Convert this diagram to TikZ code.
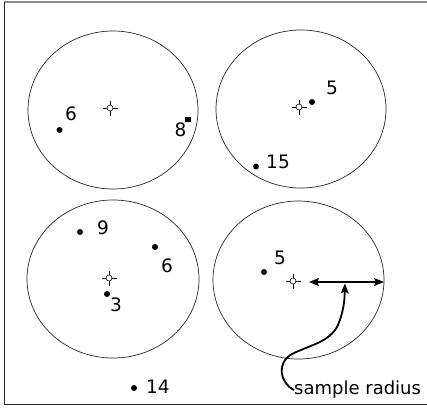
\documentclass[tikz,border=0pt]{standalone}
\usepackage{fontspec}
\setmainfont{DejaVu Sans}
\usetikzlibrary{arrows.meta}
\begin{document}
\begin{tikzpicture}[x=1pt,y=-1pt,
  plot/.style={draw=black!85,line width=0.7pt},
  dotpt/.style={circle,fill=black,inner sep=0pt,minimum size=6pt},
  sqpt/.style={rectangle,fill=black,inner sep=0pt,minimum size=5.5pt},
  num/.style={font=\fontsize{18.5}{20}\selectfont,inner sep=0pt},
  lbl/.style={font=\fontsize{18}{20}\selectfont,inner sep=0pt},
  bigarrow/.style={line width=1.8pt,-{Stealth[length=10pt,width=8pt,inset=2pt]}},
  dblarrow/.style={line width=1.8pt,{Stealth[length=10pt,width=8pt,inset=2pt]}-{Stealth[length=10pt,width=8pt,inset=2pt]}}]
\useasboundingbox (0,0) rectangle (427,407);
% frame
\draw[black!45,line width=1.6pt] (4,2) -- (427,2);
\draw[black!85,line width=1pt] (4,2) -- (4,404) -- (427,404);
% plots
\draw[plot] (113,110) ellipse [x radius=85,y radius=79];
\draw[plot] (301,109) ellipse [x radius=85,y radius=79];
\draw[plot] (113,279) ellipse [x radius=86,y radius=79];
\draw[plot] (298.5,280) ellipse [x radius=85.5,y radius=79];
% centre markers
\foreach \cx/\cy in {110/108,299/107,109/278,293/281}{
  \draw[line width=0.6pt] (\cx-7.5,\cy) -- (\cx-3,\cy) (\cx+3,\cy) -- (\cx+7.5,\cy)
    (\cx,\cy-7.5) -- (\cx,\cy-3) (\cx,\cy+3) -- (\cx,\cy+7.5);
  \draw[line width=0.6pt,fill=white] (\cx,\cy) circle (3);
}
% trees and numbers
\node[dotpt] (a1) at (59.5,130) {};   \node[num] (la1) at (71,113.5) {6};
\node[sqpt]  (a2) at (188,119.5) {};  \node[num] (la2) at (180.5,130) {8};
\node[dotpt] (b1) at (312,102) {};    \node[num] (lb1) at (332,88) {5};
\node[dotpt] (b2) at (256,166.5) {};  \node[num] (lb2) at (278,161.5) {15};
\node[dotpt] (d1) at (80,232) {};     \node[num] (ld1) at (103,228) {9};
\node[dotpt] (d2) at (155,247) {};    \node[num] (ld2) at (167,265.5) {6};
\node[dotpt] (d3) at (107,294) {};    \node[num] (ld3) at (116,305) {3};
\node[dotpt] (d4) at (134,388) {};    \node[num] (ld4) at (158,387) {14};
\node[dotpt] (e1) at (264,272) {};    \node[num] (le1) at (280,257.5) {5};
% sample radius
\coordinate (r1) at (309,282);
\coordinate (r2) at (384,282);
\coordinate (rm) at (345,283.5);
\draw[dblarrow] (r1) -- (r2);
\node[lbl,anchor=west] (lab) at (294,390) {sample radius};
\draw[bigarrow] (lab.west) .. controls (280,383) and (276,363) .. (292,354)
  .. controls (310,345) and (330,342) .. (338,325)
  .. controls (344,310) and (344.5,300) .. (rm);
\end{tikzpicture}
\end{document}
